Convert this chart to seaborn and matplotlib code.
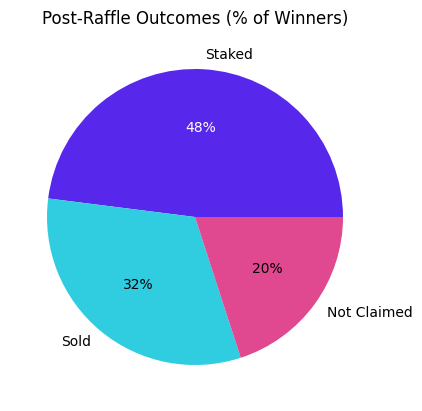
import matplotlib
matplotlib.use("Agg")
import matplotlib.pyplot as plt
import seaborn as sns

# chart data
labels = ["Staked", "Sold", "Not Claimed"]
shares = [48, 32, 20]
colors = ["#5727EB", "#30CCE0", "#E0488F"]

sns.set_style("white", rc={'text.color': 'black', 'patch.edgecolor': 'none'})
plt.rcParams['font.family'] = ['DejaVu Sans']

fig = plt.figure(figsize=(4.22, 4.11), dpi=100)
# place the pie so its center/radius match the reference
ax = fig.add_axes([10 / 422, 9 / 411, 370 / 422, 370 / 411])
wedges, texts, autotexts = ax.pie(shares, labels=labels, colors=colors,
                                  autopct='%1.0f%%', startangle=0,
                                  wedgeprops={'linewidth': 0},
                                  textprops={'fontsize': 10, 'color': 'black'})
autotexts[0].set_color('white')
ax.set_title('Post-Raffle Outcomes (% of Winners)', fontsize=12, color='black')
ax.set_aspect('equal')
fig.savefig('out.png', dpi=100)
